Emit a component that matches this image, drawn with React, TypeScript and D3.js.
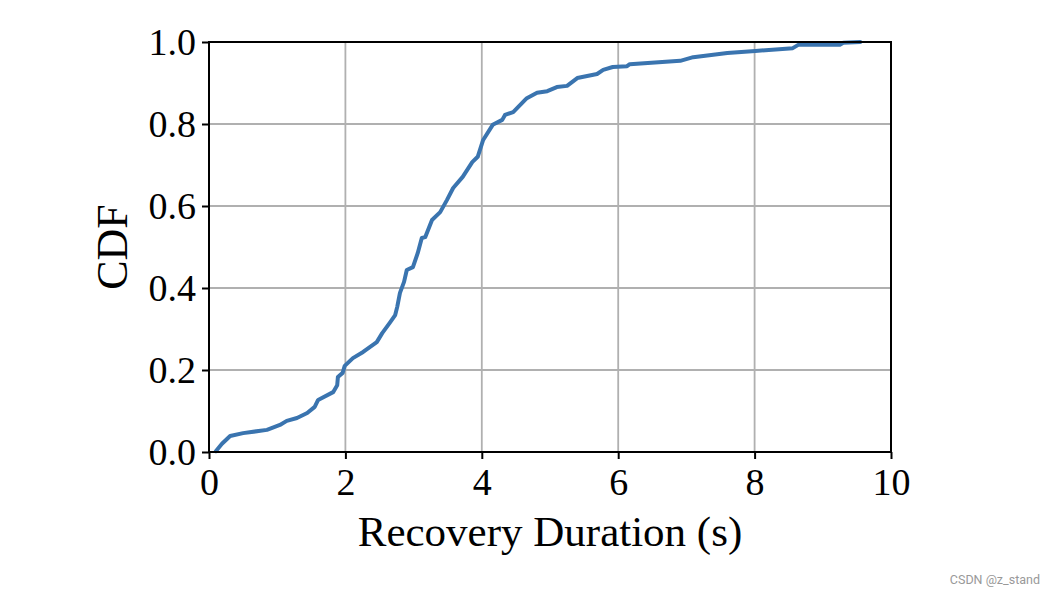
import { useEffect, useRef } from 'react'
import * as d3 from 'd3'

// CDF curve: duration (s) and cumulative fraction
const durations = [
  0.10, 0.19, 0.31, 0.50, 0.85, 1.04, 1.14, 1.29, 1.44, 1.55, 1.60, 1.82, 1.88, 1.89, 1.96, 1.99,
  2.11, 2.26, 2.46, 2.54, 2.65, 2.73, 2.76, 2.80, 2.86, 2.90, 2.99, 3.06, 3.12, 3.17, 3.27, 3.39,
  3.49, 3.58, 3.72, 3.86, 3.94, 4.02, 4.16, 4.30, 4.34, 4.46, 4.66, 4.81, 4.96, 5.10, 5.25, 5.40,
  5.69, 5.78, 5.92, 6.13, 6.17, 6.91, 7.10, 7.60, 8.01, 8.56, 8.64, 9.25, 9.30, 9.55,
]
const cdf = [
  0.002, 0.02, 0.039, 0.046, 0.054, 0.066, 0.076, 0.083, 0.095, 0.110, 0.127, 0.146, 0.163, 0.183, 0.193, 0.210,
  0.229, 0.244, 0.268, 0.290, 0.315, 0.334, 0.354, 0.388, 0.415, 0.444, 0.451, 0.485, 0.522, 0.524, 0.566, 0.585,
  0.615, 0.644, 0.671, 0.707, 0.720, 0.761, 0.798, 0.810, 0.822, 0.829, 0.863, 0.876, 0.880, 0.890, 0.893, 0.912,
  0.922, 0.932, 0.939, 0.941, 0.946, 0.954, 0.963, 0.973, 0.978, 0.985, 0.993, 0.993, 0.998, 1.0,
]
const xTicks = [0, 2, 4, 6, 8, 10]
const yTicks = [0, 0.2, 0.4, 0.6, 0.8, 1.0]

export default function App() {
  const svgRef = useRef<SVGSVGElement>(null)

  useEffect(() => {
    if (!svgRef.current) return

    const width = 1056
    const height = 596
    const margin = { top: 42, right: 165, bottom: 144, left: 209 }
    const font = '"Liberation Serif", "DejaVu Serif", serif'

    d3.select(svgRef.current).selectAll('*').remove()

    const svg = d3.select(svgRef.current)
      .attr('width', width)
      .attr('height', height)
      .attr('viewBox', [0, 0, width, height])

    const innerWidth = width - margin.left - margin.right
    const innerHeight = height - margin.top - margin.bottom

    const x = d3.scaleLinear().domain([0, 10]).range([0, innerWidth])
    const y = d3.scaleLinear().domain([0, 1]).range([innerHeight, 0])

    const g = svg.append('g')
      .attr('transform', `translate(${margin.left},${margin.top})`)

    // grid
    g.append('g')
      .selectAll('line')
      .data(xTicks)
      .join('line')
      .attr('x1', d => x(d)).attr('x2', d => x(d))
      .attr('y1', 0).attr('y2', innerHeight)
      .attr('stroke', '#b0b0b0')
      .attr('stroke-width', 1.8)
    g.append('g')
      .selectAll('line')
      .data(yTicks)
      .join('line')
      .attr('x1', 0).attr('x2', innerWidth)
      .attr('y1', d => y(d)).attr('y2', d => y(d))
      .attr('stroke', '#b0b0b0')
      .attr('stroke-width', 1.8)

    // curve
    const pts = durations.map((d, i) => [d, cdf[i]] as [number, number])
    const line = d3.line<[number, number]>()
      .x(d => x(d[0]))
      .y(d => y(d[1]))

    g.append('path')
      .datum(pts)
      .attr('d', line)
      .attr('fill', 'none')
      .attr('stroke', '#3a74af')
      .attr('stroke-width', 4)
      .attr('stroke-linejoin', 'round')
      .attr('stroke-linecap', 'round')

    // frame
    g.append('rect')
      .attr('width', innerWidth)
      .attr('height', innerHeight)
      .attr('fill', 'none')
      .attr('stroke', '#000')
      .attr('stroke-width', 2)

    // x axis
    const xAxis = g.append('g')
      .attr('transform', `translate(0,${innerHeight})`)
      .call(d3.axisBottom(x).tickValues(xTicks).tickSize(7).tickPadding(6).tickFormat(d3.format('d')))
    xAxis.select('.domain').remove()

    // y axis
    const yAxis = g.append('g')
      .call(d3.axisLeft(y).tickValues(yTicks).tickSize(7).tickPadding(6).tickFormat(d3.format('.1f')))
    yAxis.select('.domain').remove()

    for (const ax of [xAxis, yAxis]) {
      ax.selectAll('line').attr('stroke', '#000').attr('stroke-width', 2)
      ax.selectAll('text')
        .attr('fill', '#000')
        .attr('font-family', font)
        .attr('font-size', '38px')
    }
    xAxis.selectAll('text').attr('dy', '0.78em')
    yAxis.selectAll('text').attr('dy', '0.34em')

    // axis titles
    svg.append('text')
      .text('Recovery Duration (s)')
      .attr('x', margin.left + innerWidth / 2)
      .attr('y', 546)
      .attr('text-anchor', 'middle')
      .attr('font-family', font)
      .attr('font-size', '43px')
      .attr('fill', '#000')

    svg.append('text')
      .text('CDF')
      .attr('transform', `translate(127,${margin.top + innerHeight / 2}) rotate(-90)`)
      .attr('text-anchor', 'middle')
      .attr('font-family', font)
      .attr('font-size', '44px')
      .attr('fill', '#000')

    svg.append('text')
      .text('CSDN @z_stand')
      .attr('x', 1040)
      .attr('y', 584)
      .attr('text-anchor', 'end')
      .attr('font-family', 'Roboto, "DejaVu Sans", sans-serif')
      .attr('font-size', '12.5px')
      .attr('fill', '#999')
  }, [])

  return (
    <svg
      ref={svgRef}
      style={{ position: 'absolute', left: 0, top: 0, display: 'block', background: '#fff' }}
    ></svg>
  )
}
